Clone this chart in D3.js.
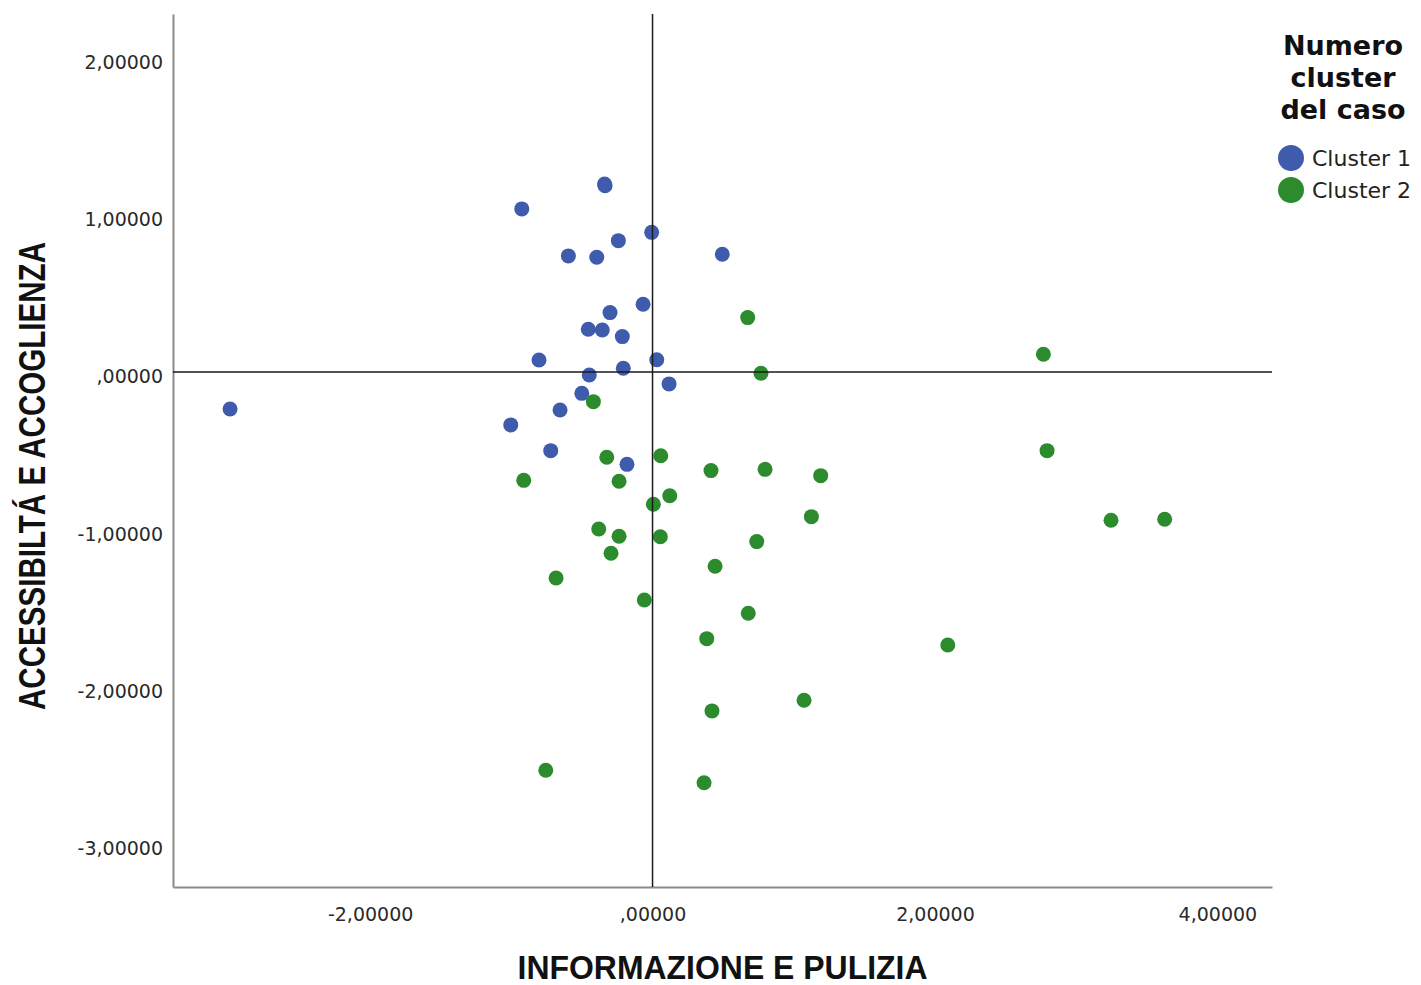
<!DOCTYPE html>
<html>
<head>
<meta charset="utf-8">
<script src="https://cdn.jsdelivr.net/npm/d3@7"></script>
<style>
	body { margin: 0; background: #fff; }
	svg { display: block; }
</style>
</head>
<body>
<script>
var W = 1421, H = 985;
var margin = {top: 14, right: 149, bottom: 98, left: 173};

// scores
var cluster1X = [-2.992, -0.926, -0.336, -0.340, -0.006, -0.242, -0.596, -0.395, 0.494, -0.067, -0.301, -0.455,
	-0.356, -0.214, -0.804, 0.030, -0.207, -0.448, 0.117, -0.501, -0.655, -1.004, -0.721, -0.181];
var cluster1Y = [-0.236, 1.038, 1.186, 1.196, 0.889, 0.836, 0.739, 0.730, 0.749, 0.431, 0.378, 0.272,
	0.267, 0.225, 0.076, 0.078, 0.024, -0.019, -0.076, -0.136, -0.242, -0.337, -0.501, -0.588];

var cluster2X = [0.674, 0.768, -0.419, -0.324, 0.058, 0.414, 0.797, 1.191, -0.912, -0.237, 0.122, 0.006,
	1.125, -0.381, -0.237, 0.055, 0.738, -0.294, 0.443, -0.683, -0.058, 0.678, 0.384, 1.073,
	0.421, -0.756, 0.365, 2.768, 2.794, 3.247, 3.627, 2.091];
var cluster2Y = [0.346, -0.008, -0.189, -0.543, -0.533, -0.628, -0.620, -0.660, -0.690, -0.696, -0.788, -0.842,
	-0.921, -1.000, -1.046, -1.049, -1.080, -1.154, -1.237, -1.312, -1.452, -1.536, -1.698, -2.090,
	-2.158, -2.536, -2.615, 0.113, -0.501, -0.944, -0.938, -1.738];

var clusterNames = ["Cluster 1", "Cluster 2"];
var clusterColors = ["#3f5bab", "#2c8b2c"];
var xTicks = [-2, 0, 2, 4];
var yTicks = [-3, -2, -1, 0, 1, 2];

var series = [
	{name: clusterNames[0], color: clusterColors[0], pts: cluster1X.map(function(v, i) { return [v, cluster1Y[i]]; })},
	{name: clusterNames[1], color: clusterColors[1], pts: cluster2X.map(function(v, i) { return [v, cluster2Y[i]]; })}
];

var x = d3.scaleLinear()
	.domain([-3.396, 4.387])
	.range([margin.left, W - margin.right]);

var y = d3.scaleLinear()
	.domain([-3.279, 2.279])
	.range([H - margin.bottom, margin.top]);

// SPSS style numbers: comma decimals, no leading zero
var fmt = function(d) {
	return d3.format(".5f")(d).replace(".", ",").replace(/^(-?)0,/, "$1,").replace("−", "-");
};

var svg = d3.select("body").append("svg")
	.attr("width", W)
	.attr("height", H);

// axes
var gx = svg.append("g")
	.attr("transform", "translate(0," + (H - margin.bottom) + ")")
	.call(d3.axisBottom(x).tickValues(xTicks).tickFormat(fmt).tickSize(0).tickPadding(21));

var gy = svg.append("g")
	.attr("transform", "translate(" + margin.left + ",0)")
	.call(d3.axisLeft(y).tickValues(yTicks).tickFormat(fmt).tickSize(0).tickPadding(10));
gy.selectAll("text").attr("dy", "0.58em");

svg.selectAll(".domain")
	.attr("stroke", "#8a8a8a")
	.attr("stroke-width", 2);

svg.selectAll(".tick text")
	.attr("font-family", "DejaVu Sans")
	.attr("font-size", 19)
	.attr("fill", "#2a2a2a");

// points
series.forEach(function(s) {
	svg.append("g")
		.selectAll("circle")
		.data(s.pts)
		.enter().append("circle")
		.attr("cx", function(d) { return x(d[0]); })
		.attr("cy", function(d) { return y(d[1]); })
		.attr("r", 7.5)
		.attr("fill", s.color);
});

// reference lines at zero
svg.append("line")
	.attr("x1", x(0)).attr("x2", x(0))
	.attr("y1", y.range()[1]).attr("y2", y.range()[0])
	.attr("stroke", "#1a1a1a")
	.attr("stroke-width", 1.5);

svg.append("line")
	.attr("x1", x.range()[0]).attr("x2", x.range()[1])
	.attr("y1", y(0)).attr("y2", y(0))
	.attr("stroke", "#1a1a1a")
	.attr("stroke-width", 1.5);

// axis titles
svg.append("text")
	.attr("x", (x.range()[0] + x.range()[1]) / 2)
	.attr("y", 979)
	.attr("text-anchor", "middle")
	.attr("font-family", "Liberation Sans, Arial, sans-serif")
	.attr("font-weight", "bold")
	.attr("font-size", 34)
	.attr("textLength", 410)
	.attr("lengthAdjust", "spacingAndGlyphs")
	.attr("fill", "#111")
	.text("INFORMAZIONE E PULIZIA");

svg.append("text")
	.attr("transform", "translate(45,476)rotate(-90)")
	.attr("text-anchor", "middle")
	.attr("font-family", "Liberation Sans, Arial, sans-serif")
	.attr("font-weight", "bold")
	.attr("font-size", 37)
	.attr("textLength", 468)
	.attr("lengthAdjust", "spacingAndGlyphs")
	.attr("fill", "#111")
	.text("ACCESSIBILTÁ E ACCOGLIENZA");

// legend
var legendTitle = ["Numero", "cluster", "del caso"];
svg.append("g")
	.selectAll("text")
	.data(legendTitle)
	.enter().append("text")
	.attr("x", 1343)
	.attr("y", function(d, i) { return 55 + i * 32; })
	.attr("text-anchor", "middle")
	.attr("font-family", "DejaVu Sans")
	.attr("font-weight", "bold")
	.attr("font-size", 27)
	.attr("fill", "#111")
	.text(function(d) { return d; });

var legend = svg.selectAll(".legend")
	.data(series)
	.enter().append("g")
	.attr("class", "legend")
	.attr("transform", function(d, i) { return "translate(1291," + (158 + i * 32) + ")"; });

legend.append("circle")
	.attr("r", 13)
	.attr("fill", function(d) { return d.color; });

legend.append("text")
	.attr("x", 21)
	.attr("y", 8)
	.attr("font-family", "DejaVu Sans")
	.attr("font-size", 22)
	.attr("fill", "#222")
	.text(function(d) { return d.name; });
</script>
</body>
</html>
